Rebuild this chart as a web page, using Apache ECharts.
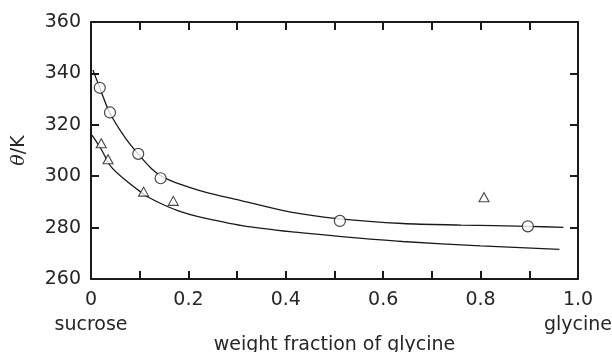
<!DOCTYPE html>
<html><head><meta charset="utf-8">
<script src="https://cdn.jsdelivr.net/npm/echarts@6/dist/echarts.min.js"></script>
<style>html,body{margin:0;padding:0;background:#fff}#c{width:612px;height:352px}</style>
</head><body><div id="c"></div>
<script>
// measured data
const circleX = [0.018, 0.039, 0.097, 0.143, 0.511, 0.897];
const circleY = [334.4, 324.8, 308.7, 299.2, 282.6, 280.5];
const triX = [0.021, 0.035, 0.108, 0.169, 0.807];
const triY = [312.8, 306.6, 294.0, 290.4, 291.8];
const upperX = [0.004, 0.018, 0.038, 0.07, 0.097, 0.125, 0.143, 0.16, 0.184, 0.22, 0.253, 0.308, 0.41, 0.51, 0.64, 0.76, 0.897, 0.97];
const upperY = [341.3, 334.4, 324.9, 315.0, 308.6, 302.8, 300.2, 298.6, 296.8, 294.6, 292.9, 290.5, 286.0, 283.4, 281.6, 281.0, 280.5, 280.1];
const lowerX = [0.002, 0.021, 0.041, 0.07, 0.101, 0.118, 0.15, 0.184, 0.218, 0.31, 0.42, 0.52, 0.64, 0.8, 0.962];
const lowerY = [316.0, 310.5, 303.7, 298.6, 294.0, 291.8, 288.8, 286.2, 284.4, 280.8, 278.2, 276.4, 274.6, 272.9, 271.5];
const xTickLabels = {0: '0\n{s|sucrose}', 0.2: '0.2', 0.4: '0.4', 0.6: '0.6', 0.8: '0.8', 1: '1.0\n{s|glycine}'};
const yTicks = [260, 280, 300, 320, 340, 360];

const zip = (a, b) => a.map((v, i) => [v, b[i]]);
const ink = '#1a1a1a';
const txt = '#262626';
const font = 'DejaVu Sans';
const axisBase = {
  axisLine: {show: true, onZero: false, lineStyle: {color: ink, width: 2}},
  axisTick: {show: true, inside: true, length: 8, lineStyle: {color: ink, width: 2}},
  splitLine: {show: false}
};
const chart = echarts.init(document.getElementById('c'));
chart.setOption({
  animation: false,
  backgroundColor: '#fff',
  grid: {left: 91, right: 34, top: 22, bottom: 73, containLabel: false, outerBoundsMode: 'none'},
  xAxis: [
    Object.assign({}, axisBase, {
      type: 'value', min: 0, max: 1, interval: 0.1, position: 'bottom',
      name: 'weight fraction of glycine', nameLocation: 'middle', nameGap: 66, nameMoveOverlap: false,
      nameTextStyle: {color: txt, fontFamily: font, fontSize: 19, verticalAlign: 'middle'},
      axisLabel: {
        color: txt, fontFamily: font, fontSize: 19, margin: 10, lineHeight: 22,
        formatter: v => { const k = Math.round(v * 10) / 10; return xTickLabels[k] !== undefined ? xTickLabels[k] : ''; },
        rich: {s: {fontFamily: font, fontSize: 19, color: txt, lineHeight: 29}}
      }
    }),
    Object.assign({}, axisBase, {
      type: 'value', min: 0, max: 1, interval: 0.1, position: 'top',
      axisLabel: {show: false}
    })
  ],
  yAxis: [
    Object.assign({}, axisBase, {
      type: 'value', min: 260, max: 360, interval: 20, position: 'left',
      name: '{i|θ}/K', nameLocation: 'middle', nameGap: 62, nameRotate: 90, nameMoveOverlap: false,
      nameTextStyle: {color: txt, fontFamily: font, fontSize: 19,
        rich: {i: {fontStyle: 'italic', fontFamily: 'DejaVu Serif', fontSize: 19, color: txt}}},
      axisLabel: {color: txt, fontFamily: font, fontSize: 19, margin: 10,
        formatter: v => yTicks.includes(v) ? String(v) : ''}
    }),
    Object.assign({}, axisBase, {
      type: 'value', min: 260, max: 360, interval: 20, position: 'right',
      axisLabel: {show: false}
    })
  ],
  series: [
    {type: 'line', data: zip(upperX, upperY), smooth: 0.3, showSymbol: false,
     lineStyle: {color: ink, width: 1.3}, z: 2},
    {type: 'line', data: zip(lowerX, lowerY), smooth: 0.3, showSymbol: false,
     lineStyle: {color: ink, width: 1.3}, z: 2},
    {type: 'scatter', data: zip(circleX, circleY), symbol: 'circle', symbolSize: 11,
     itemStyle: {color: '#fff', borderColor: ink, borderWidth: 1.2}, z: 5},
    {type: 'scatter', data: zip(triX, triY), symbol: 'triangle', symbolSize: [10, 9],
     itemStyle: {color: '#fff', borderColor: ink, borderWidth: 1.1}, z: 5}
  ]
});
</script></body></html>
